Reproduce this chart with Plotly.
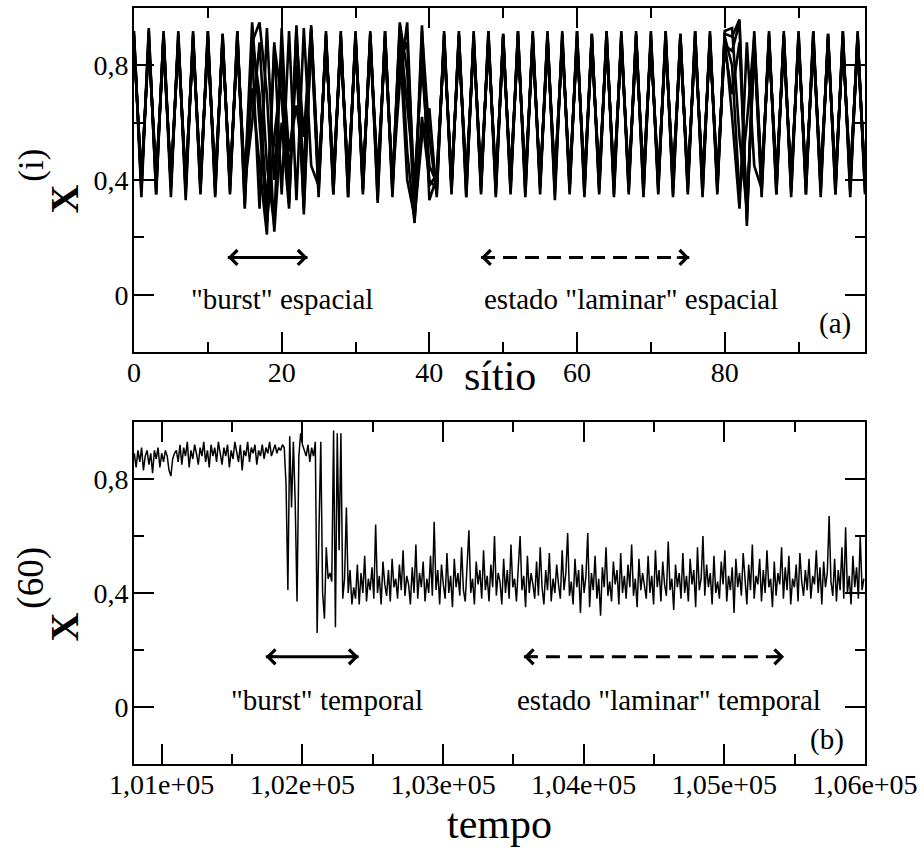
import plotly.graph_objects as go

# ---------------- data: panel (a) snapshots x^(i) vs site ----------------
sites = list(range(100))

snap1 = [0.92,0.36,0.93,0.35,0.92,0.37,0.91,0.35,0.92,0.36,
         0.92,0.35,0.91,0.36,0.92,0.31,0.88,0.95,0.70,0.22,
         0.60,0.30,0.94,0.28,0.92,0.36,0.91,0.35,0.92,0.34,
         0.91,0.36,0.92,0.33,0.92,0.36,0.94,0.50,0.25,0.92,
         0.55,0.35,0.92,0.36,0.91,0.34,0.92,0.36,0.92,0.35,
         0.91,0.36,0.92,0.35,0.92,0.37,0.91,0.35,0.92,0.36,
         0.92,0.35,0.91,0.36,0.92,0.35,0.92,0.36,0.91,0.35,
         0.92,0.36,0.92,0.35,0.91,0.36,0.92,0.35,0.92,0.36,
         0.91,0.90,0.96,0.26,0.89,0.36,0.92,0.35,0.91,0.36,
         0.92,0.35,0.92,0.36,0.91,0.35,0.92,0.36,0.92,0.36]
snap2 = [0.90,0.38,0.90,0.37,0.91,0.38,0.89,0.37,0.90,0.38,
         0.90,0.37,0.89,0.38,0.90,0.36,0.72,0.45,0.21,0.88,
         0.35,0.92,0.33,0.93,0.45,0.38,0.90,0.37,0.89,0.38,
         0.90,0.37,0.91,0.38,0.90,0.37,0.95,0.78,0.26,0.62,
         0.40,0.37,0.90,0.38,0.90,0.37,0.89,0.38,0.90,0.37,
         0.90,0.38,0.91,0.37,0.90,0.38,0.90,0.37,0.89,0.38,
         0.90,0.37,0.90,0.38,0.91,0.37,0.90,0.38,0.90,0.37,
         0.89,0.38,0.90,0.37,0.90,0.38,0.91,0.37,0.90,0.38,
         0.90,0.62,0.30,0.88,0.45,0.37,0.90,0.38,0.90,0.37,
         0.90,0.38,0.89,0.37,0.90,0.38,0.90,0.37,0.90,0.38]
snap3 = [0.88,0.40,0.88,0.41,0.87,0.40,0.88,0.39,0.88,0.41,
         0.87,0.40,0.88,0.40,0.88,0.39,0.95,0.60,0.25,0.55,
         0.78,0.32,0.90,0.55,0.94,0.40,0.88,0.41,0.87,0.40,
         0.88,0.40,0.88,0.41,0.87,0.39,0.74,0.95,0.30,0.94,
         0.33,0.41,0.88,0.40,0.87,0.40,0.88,0.41,0.88,0.40,
         0.87,0.41,0.88,0.40,0.88,0.40,0.87,0.41,0.88,0.40,
         0.88,0.40,0.87,0.41,0.88,0.40,0.88,0.40,0.87,0.41,
         0.88,0.40,0.88,0.41,0.87,0.40,0.88,0.40,0.88,0.41,
         0.87,0.85,0.95,0.24,0.92,0.40,0.88,0.41,0.87,0.40,
         0.88,0.40,0.88,0.41,0.87,0.40,0.88,0.41,0.88,0.40]
snap4 = [0.91,0.34,0.92,0.35,0.91,0.34,0.92,0.33,0.91,0.35,
         0.92,0.34,0.91,0.35,0.92,0.30,0.89,0.70,0.30,0.87,
         0.68,0.33,0.93,0.38,0.90,0.34,0.92,0.35,0.91,0.34,
         0.92,0.35,0.91,0.32,0.92,0.34,0.88,0.40,0.27,0.55,
         0.65,0.34,0.91,0.35,0.92,0.34,0.91,0.35,0.92,0.34,
         0.91,0.35,0.92,0.34,0.91,0.35,0.92,0.33,0.91,0.35,
         0.92,0.34,0.91,0.35,0.92,0.34,0.91,0.35,0.92,0.34,
         0.91,0.35,0.92,0.34,0.91,0.35,0.92,0.34,0.91,0.35,
         0.92,0.93,0.55,0.30,0.87,0.34,0.91,0.35,0.92,0.34,
         0.91,0.35,0.92,0.34,0.91,0.35,0.92,0.34,0.91,0.35]
snap5 = [0.89,0.38,0.89,0.39,0.90,0.38,0.89,0.39,0.89,0.38,
         0.90,0.39,0.89,0.38,0.89,0.38,0.60,0.88,0.45,0.24,
         0.93,0.40,0.80,0.30,0.91,0.38,0.89,0.39,0.90,0.38,
         0.89,0.39,0.89,0.38,0.90,0.39,0.92,0.65,0.40,0.80,
         0.45,0.39,0.89,0.38,0.90,0.39,0.89,0.38,0.89,0.39,
         0.90,0.38,0.89,0.39,0.89,0.38,0.90,0.39,0.89,0.38,
         0.89,0.39,0.90,0.38,0.89,0.39,0.89,0.38,0.90,0.39,
         0.89,0.38,0.89,0.39,0.90,0.38,0.89,0.39,0.89,0.38,
         0.90,0.80,0.35,0.60,0.90,0.39,0.89,0.38,0.90,0.39,
         0.89,0.38,0.90,0.39,0.89,0.38,0.89,0.39,0.90,0.38]
snap6 = [0.87,0.41,0.87,0.42,0.86,0.41,0.87,0.40,0.87,0.42,
         0.86,0.41,0.87,0.41,0.86,0.40,0.85,0.30,0.93,0.40,
         0.85,0.50,0.66,0.45,0.93,0.41,0.87,0.42,0.86,0.41,
         0.87,0.41,0.86,0.42,0.87,0.40,0.82,0.88,0.35,0.86,
         0.38,0.42,0.87,0.41,0.86,0.41,0.87,0.42,0.87,0.41,
         0.86,0.42,0.87,0.41,0.87,0.40,0.86,0.42,0.87,0.41,
         0.87,0.41,0.86,0.42,0.87,0.41,0.87,0.40,0.86,0.42,
         0.87,0.41,0.87,0.42,0.86,0.41,0.87,0.41,0.87,0.42,
         0.86,0.70,0.88,0.28,0.85,0.41,0.87,0.42,0.86,0.41,
         0.87,0.41,0.86,0.42,0.87,0.41,0.87,0.42,0.86,0.41]
snapshots = [snap1, snap2, snap3, snap4, snap5, snap6]

# ---------------- data: panel (b) x^(60) vs tempo ----------------
T_START = 100805
T_STEP = 13
x60 = [
 0.89,0.84,0.90,0.86,0.91,0.83,0.88,0.90,0.85,0.89,
 0.82,0.90,0.87,0.91,0.84,0.89,0.86,0.90,0.88,0.83,
 0.81,0.87,0.89,0.90,0.86,0.92,0.85,0.91,0.88,0.93,
 0.84,0.90,0.87,0.92,0.89,0.85,0.91,0.88,0.93,0.86,
 0.90,0.84,0.92,0.88,0.91,0.86,0.93,0.89,0.85,0.91,
 0.88,0.92,0.84,0.90,0.87,0.93,0.89,0.86,0.92,0.83,
 0.90,0.88,0.93,0.86,0.91,0.89,0.92,0.85,0.90,0.88,
 0.92,0.87,0.91,0.89,0.93,0.88,0.90,0.92,0.89,0.91,
 0.90,0.92,0.91,
 0.78,0.41,0.95,0.70,0.93,0.72,0.37,0.88,0.96,0.92,
 0.90,0.88,0.92,0.86,0.91,0.88,0.93,0.26,0.62,0.93,
 0.40,0.31,0.56,0.45,0.47,0.44,0.97,0.28,0.96,0.55,
 0.96,0.38,0.45,0.70,0.40,0.48,0.36,
 0.42,0.38,0.50,0.36,0.47,0.40,0.53,0.37,0.45,0.41,
 0.49,0.38,0.64,0.40,0.46,0.36,0.51,0.43,0.39,0.48,
 0.37,0.52,0.42,0.45,0.38,0.50,0.41,0.55,0.39,0.46,
 0.43,0.36,0.49,0.40,0.57,0.38,0.47,0.42,0.51,0.37,
 0.45,0.40,0.53,0.39,0.65,0.41,0.48,0.36,0.50,0.43,
 0.38,0.54,0.40,0.46,0.35,0.52,0.42,0.47,0.39,0.56,
 0.41,0.37,0.49,0.62,0.40,0.45,0.36,0.51,0.43,0.48,
 0.38,0.55,0.41,0.46,0.37,0.50,0.42,0.60,0.39,0.47,
 0.44,0.36,0.52,0.40,0.48,0.38,0.57,0.42,0.45,0.37,
 0.49,0.60,0.41,0.46,0.35,0.53,0.40,0.47,0.43,0.38,
 0.51,0.39,0.56,0.42,0.36,0.48,0.41,0.54,0.37,0.45,
 0.40,0.50,0.43,0.38,0.55,0.41,0.47,0.61,0.39,0.44,
 0.36,0.52,0.42,0.48,0.33,0.50,0.40,0.46,0.61,0.35,
 0.47,0.41,0.53,0.38,0.45,0.32,0.49,0.42,0.56,0.39,
 0.44,0.37,0.51,0.43,0.48,0.36,0.54,0.40,0.46,0.38,
 0.50,0.42,0.57,0.39,0.45,0.35,0.52,0.41,0.47,0.43,
 0.38,0.53,0.40,0.46,0.36,0.55,0.42,0.48,0.37,0.51,
 0.43,0.39,0.58,0.41,0.45,0.34,0.50,0.42,0.47,0.38,
 0.54,0.40,0.46,0.37,0.52,0.43,0.48,0.35,0.56,0.41,
 0.45,0.60,0.39,0.50,0.42,0.47,0.36,0.53,0.40,0.44,
 0.38,0.51,0.43,0.55,0.37,0.46,0.41,0.49,0.33,0.52,
 0.42,0.47,0.39,0.54,0.44,0.36,0.50,0.41,0.57,0.38,
 0.46,0.43,0.52,0.37,0.48,0.40,0.55,0.42,0.45,0.35,
 0.51,0.39,0.47,0.43,0.56,0.38,0.49,0.41,0.53,0.36,
 0.45,0.42,0.50,0.37,0.54,0.44,0.39,0.48,0.41,0.52,
 0.38,0.46,0.43,0.55,0.40,0.49,0.36,0.51,0.42,0.47,
 0.67,0.44,0.39,0.52,0.37,0.48,0.41,0.56,0.38,0.63,
 0.40,0.46,0.36,0.53,0.42,0.49,0.38,0.60,0.41,0.45]
tempo = [T_START + T_STEP * k for k in range(len(x60))]

# ---------------- ticks ----------------
top_x_ticks = [0, 20, 40, 60, 80]
top_x_minor = [10, 30, 50, 70, 90]
y_ticks = [0, 0.4, 0.8]
y_ticktext = ["0", "0,4", "0,8"]
y_minor = [0.2, 0.6]
bot_x_ticks = [101000, 102000, 103000, 104000, 105000, 106000]
bot_x_ticktext = ["1,01e+05", "1,02e+05", "1,03e+05", "1,04e+05", "1,05e+05", "1,06e+05"]
bot_x_minor = [101500, 102500, 103500, 104500, 105500]

# ---------------- annotation data ----------------
# arrows: (x_start, x_end, y, dashed)
arrows_a = [(12.7, 23.5, 0.13, False), (47.0, 75.2, 0.13, True)]
arrows_b = [(101740, 102400, 0.176, False), (103575, 105425, 0.176, True)]
labels_a = [(20.0, -0.014, '"burst" espacial'), (67.3, -0.014, 'estado "laminar" espacial')]
labels_b = [(102176, 0.025, '"burst" temporal'), (104606, 0.025, 'estado "laminar" temporal')]

FONT = "Liberation Serif, Times New Roman, serif"

fig = go.Figure()
for s in snapshots:
    fig.add_trace(go.Scatter(x=sites, y=s, mode="lines", xaxis="x", yaxis="y",
                             line=dict(color="black", width=2.6), showlegend=False,
                             hoverinfo="skip"))
fig.add_trace(go.Scatter(x=tempo, y=x60, mode="lines", xaxis="x2", yaxis="y2",
                         line=dict(color="black", width=1.5), showlegend=False,
                         hoverinfo="skip"))

def axis_style(standoff):
    return dict(showline=True, linewidth=2, linecolor="black", mirror="ticks",
                ticks="inside", ticklen=20, tickwidth=2, tickcolor="black",
                showgrid=False, zeroline=False, ticklabelstandoff=standoff,
                tickfont=dict(family=FONT, size=28, color="black"))

xa = axis_style(-6); xa.update(domain=[0, 1], anchor="y", range=[0, 99],
    tickvals=top_x_ticks, ticktext=[str(v) for v in top_x_ticks],
    minor=dict(tickvals=top_x_minor, ticks="inside", ticklen=10, tickwidth=2, tickcolor="black"))
ya = axis_style(-2); ya.update(domain=[0.5449, 1.0], anchor="x", range=[-0.2, 1.0],
    tickvals=y_ticks, ticktext=y_ticktext,
    minor=dict(tickvals=y_minor, ticks="inside", ticklen=10, tickwidth=2, tickcolor="black"))
xb = axis_style(-6); xb.update(domain=[0, 1], anchor="y2", range=[100803, 106000],
    tickvals=bot_x_ticks, ticktext=bot_x_ticktext,
    minor=dict(tickvals=bot_x_minor, ticks="inside", ticklen=10, tickwidth=2, tickcolor="black"))
yb = axis_style(-2); yb.update(domain=[0, 0.4525], anchor="x2", range=[-0.2, 1.0],
    tickvals=y_ticks, ticktext=y_ticktext,
    minor=dict(tickvals=y_minor, ticks="inside", ticklen=10, tickwidth=2, tickcolor="black"))

shapes = []
annotations = []

def add_arrows(arrows, xref, yref):
    for x0, x1, y, dashed in arrows:
        shapes.append(dict(type="line", xref=xref, yref=yref, x0=x0, x1=x1, y0=y, y1=y,
                           line=dict(color="black", width=3, dash="14px,8px" if dashed else "solid")))
        for xh, off in ((x1, -14), (x0, 14)):
            annotations.append(dict(xref=xref, yref=yref, x=xh, y=y, ax=off, ay=0, text="",
                                    showarrow=True, arrowhead=4, arrowsize=1.1, arrowwidth=2.6,
                                    arrowcolor="black"))

def add_labels(labels, xref, yref):
    for x, y, t in labels:
        annotations.append(dict(xref=xref, yref=yref, x=x, y=y, text=t, showarrow=False,
                                xanchor="center", yanchor="middle",
                                font=dict(family=FONT, size=29, color="black")))

add_arrows(arrows_a, "x", "y")
add_arrows(arrows_b, "x2", "y2")
add_labels(labels_a, "x", "y")
add_labels(labels_b, "x2", "y2")
annotations.append(dict(xref="x", yref="y", x=94.9, y=-0.10, text="(a)", showarrow=False,
                        font=dict(family=FONT, size=29, color="black")))
annotations.append(dict(xref="x2", yref="y2", x=105730, y=-0.114, text="(b)", showarrow=False,
                        font=dict(family=FONT, size=29, color="black")))

# axis titles
annotations.append(dict(xref="paper", yref="paper", x=0.5, y=0.513, text="sítio", showarrow=False,
                        xanchor="center", yanchor="middle", font=dict(family=FONT, size=42, color="black")))
annotations.append(dict(xref="paper", yref="paper", x=0.5, y=-0.080, text="tempo", showarrow=False,
                        xanchor="center", yanchor="middle", font=dict(family=FONT, size=42, color="black")))
# rotated y titles: big "X" plus raised "(i)" / "(60)"
for xx, yy, txt, sz in ((-0.0956, 0.7467, "<b>X</b>", 40), (-0.1407, 0.7916, "(i)", 35),
                        (-0.0956, 0.1807, "<b>X</b>", 40), (-0.1407, 0.2467, "(60)", 37)):
    annotations.append(dict(xref="paper", yref="paper", x=xx, y=yy, text=txt, showarrow=False,
                            textangle=-90, xanchor="center", yanchor="middle",
                            font=dict(family=FONT, size=sz, color="black")))

fig.update_layout(width=924, height=848, margin=dict(l=134, r=58, t=6, b=84),
                  paper_bgcolor="white", plot_bgcolor="white",
                  xaxis=xa, yaxis=ya, xaxis2=xb, yaxis2=yb,
                  shapes=shapes, annotations=annotations, showlegend=False)

fig.write_html("out.html")
